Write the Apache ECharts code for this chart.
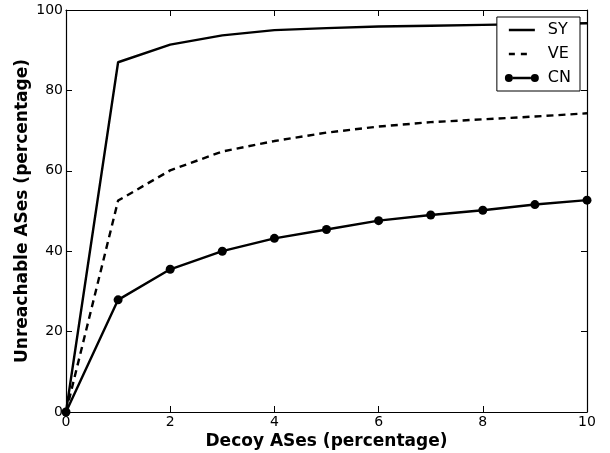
<!DOCTYPE html>
<html>
<head>
<meta charset="utf-8">
<script src="https://cdn.jsdelivr.net/npm/echarts@6/dist/echarts.min.js"></script>
<style>
html, body { margin: 0; padding: 0; background: #fff; }
#main { width: 610px; height: 453px; }
</style>
</head>
<body>
<div id="main"></div>
<script>
var xValues = [0, 1, 2, 3, 4, 5, 6, 7, 8, 9, 10];
var sy = [0, 87.0, 91.4, 93.7, 95.0, 95.5, 95.9, 96.1, 96.3, 96.5, 96.7];
var ve = [0, 52.6, 60.1, 64.8, 67.4, 69.5, 71.0, 72.1, 72.8, 73.5, 74.3];
var cn = [0, 27.9, 35.5, 40.0, 43.2, 45.4, 47.6, 49.0, 50.2, 51.6, 52.7];

function pairs(ys) {
    return xValues.map(function (x, i) { return [x, ys[i]]; });
}

// legend icons (38x16 box, corner specks fix the box size)
var box = 'M0,0L0.01,0L0.01,0.01Z M38,16L37.99,16L37.99,15.99Z ';
var iconSY = 'path://' + box + 'M4,6.8L30,6.8L30,9.2L4,9.2Z';
var iconVE = 'path://' + box + 'M4,6.8L10,6.8L10,9.2L4,9.2Z M16,6.8L22,6.8L22,9.2L16,9.2Z';
var iconCN = 'path://' + box + 'M8,6.8L26,6.8L26,9.2L8,9.2Z ' +
    'M0,8A4,4 0 1,0 8,8A4,4 0 1,0 0,8Z M26,8A4,4 0 1,0 34,8A4,4 0 1,0 26,8Z';

var font = 'DejaVu Sans';
var dom = document.getElementById('main');
var myChart = echarts.init(dom);

var tickStyle = { show: true, inside: true, length: 6, lineStyle: { color: '#000', width: 1 } };
var lineAx = { show: true, onZero: false, lineStyle: { color: '#000', width: 1.2 } };

var option = {
    animation: false,
    backgroundColor: '#fff',
    grid: { left: 66, right: 23, top: 10, bottom: 41, outerBoundsMode: 'none', containLabel: false },
    legend: {
        orient: 'vertical',
        right: 30,
        top: 17,
        padding: [5, 9, 5, 8],
        itemGap: 8,
        itemWidth: 38,
        itemHeight: 16,
        borderColor: '#000',
        borderWidth: 1,
        backgroundColor: '#fff',
        textStyle: { fontFamily: font, fontSize: 16, color: '#000' },
        data: [
            { name: 'SY', icon: iconSY },
            { name: 'VE', icon: iconVE },
            { name: 'CN', icon: iconCN }
        ]
    },
    xAxis: [{
        type: 'value', min: 0, max: 10, interval: 2,
        name: 'Decoy ASes (percentage)', nameLocation: 'middle', nameGap: 21,
        nameMoveOverlap: false,
        nameTextStyle: { fontFamily: font, fontSize: 17, fontWeight: 'bold', color: '#000' },
        axisLine: lineAx, axisTick: tickStyle,
        axisLabel: { fontFamily: font, fontSize: 14, color: '#000', margin: 3 },
        splitLine: { show: false }
    }, {
        type: 'value', min: 0, max: 10, interval: 2, position: 'top',
        axisLine: lineAx, axisTick: tickStyle, axisLabel: { show: false },
        splitLine: { show: false }
    }],
    yAxis: [{
        type: 'value', min: 0, max: 100, interval: 20,
        name: 'Unreachable ASes (percentage)', nameLocation: 'middle', nameGap: 35,
        nameMoveOverlap: false,
        nameTextStyle: { fontFamily: font, fontSize: 17, fontWeight: 'bold', color: '#000' },
        axisLine: lineAx, axisTick: tickStyle,
        axisLabel: { fontFamily: font, fontSize: 14, color: '#000', margin: 3 },
        splitLine: { show: false }
    }, {
        type: 'value', min: 0, max: 100, interval: 20, position: 'right',
        axisLine: lineAx, axisTick: tickStyle, axisLabel: { show: false },
        splitLine: { show: false }
    }],
    series: [
        {
            name: 'SY', type: 'line', data: pairs(sy),
            symbol: 'none',
            lineStyle: { color: '#000', width: 2.4 },
            itemStyle: { color: '#000' }
        },
        {
            name: 'VE', type: 'line', data: pairs(ve),
            symbol: 'none',
            lineStyle: { color: '#000', width: 2.4, type: [7, 5] },
            itemStyle: { color: '#000' }
        },
        {
            name: 'CN', type: 'line', data: pairs(cn),
            symbol: 'circle', symbolSize: 9,
            lineStyle: { color: '#000', width: 2.4 },
            itemStyle: { color: '#000' }
        }
    ]
};

if (option && typeof option === 'object') {
    myChart.setOption(option, true);
}
</script>
</body>
</html>
